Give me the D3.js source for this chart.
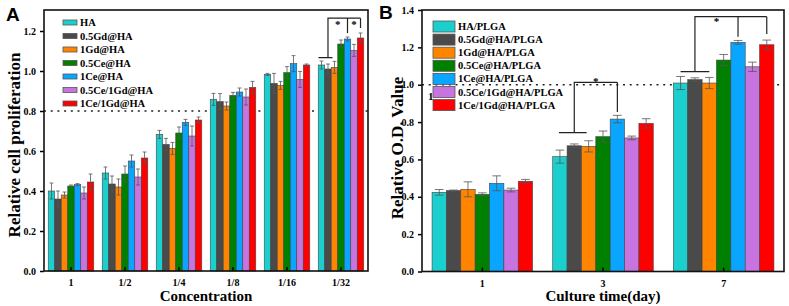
<!DOCTYPE html>
<html><head>
<meta charset="utf-8">
<script src="https://d3js.org/d3.v7.min.js"></script>
<style>
body { margin: 0; background: #fff; }
text { font-family: "Liberation Serif", "Times New Roman", serif; font-weight: bold; }
</style>
</head>
<body>
<div id="chart"></div>
<script>
// ---- data ----
var colors = ["#1ccfcf", "#4a4a4a", "#ff8500", "#008000", "#0aa5ff", "#c874e0", "#ff0000"];

// panel A
var catA = ["1", "1/2", "1/4", "1/8", "1/16", "1/32"];
var namesA = ["HA", "0.5Gd@HA", "1Gd@HA", "0.5Ce@HA", "1Ce@HA", "0.5Ce/1Gd@HA", "1Ce/1Gd@HA"];
var a_HA      = [0.40, 0.49, 0.683, 0.858, 0.983, 1.03];
var a_05Gd    = [0.36, 0.435, 0.633, 0.847, 0.938, 1.01];
var a_1Gd     = [0.38, 0.42, 0.613, 0.825, 0.928, 1.018];
var a_05Ce    = [0.425, 0.485, 0.69, 0.878, 0.992, 1.135];
var a_1Ce     = [0.432, 0.55, 0.743, 0.895, 1.037, 1.16];
var a_05Ce1Gd = [0.39, 0.47, 0.675, 0.87, 0.958, 1.103];
var a_1Ce1Gd  = [0.445, 0.565, 0.755, 0.918, 1.03, 1.165];
var e_HA      = [0.04, 0.03, 0.02, 0.03, 0.005, 0.02];
var e_05Gd    = [0.04, 0.04, 0.03, 0.04, 0.05, 0.025];
var e_1Gd     = [0.015, 0.04, 0.03, 0.02, 0.02, 0.03];
var e_05Ce    = [0.005, 0.04, 0.03, 0.015, 0.03, 0.02];
var e_1Ce     = [0.005, 0.03, 0.015, 0.02, 0.04, 0.01];
var e_05Ce1Gd = [0.03, 0.04, 0.05, 0.04, 0.04, 0.03];
var e_1Ce1Gd  = [0.04, 0.03, 0.015, 0.03, 0.005, 0.025];
var ticksA = [0, 0.2, 0.4, 0.6, 0.8, 1.0, 1.2];

// panel B
var catB = ["1", "3", "7"];
var namesB = ["HA/PLGA", "0.5Gd@HA/PLGA", "1Gd@HA/PLGA", "0.5Ce@HA/PLGA", "1Ce@HA/PLGA", "0.5Ce/1Gd@HA/PLGA", "1Ce/1Gd@HA/PLGA"];
var b_HA      = [0.424, 0.615, 1.009];
var b_05Gd    = [0.433, 0.673, 1.027];
var b_1Gd     = [0.44, 0.670, 1.009];
var b_05Ce    = [0.413, 0.722, 1.132];
var b_1Ce     = [0.472, 0.816, 1.227];
var b_05Ce1Gd = [0.436, 0.715, 1.096];
var b_1Ce1Gd  = [0.483, 0.793, 1.214];
var f_HA      = [0.015, 0.035, 0.035];
var f_05Gd    = [0.003, 0.01, 0.01];
var f_1Gd     = [0.04, 0.03, 0.03];
var f_05Ce    = [0.008, 0.03, 0.03];
var f_1Ce     = [0.04, 0.02, 0.01];
var f_05Ce1Gd = [0.01, 0.01, 0.025];
var f_1Ce1Gd  = [0.01, 0.025, 0.025];
var ticksB = [0, 0.2, 0.4, 0.6, 0.8, 1.0, 1.2, 1.4];

var seriesA = [a_HA, a_05Gd, a_1Gd, a_05Ce, a_1Ce, a_05Ce1Gd, a_1Ce1Gd];
var errA = [e_HA, e_05Gd, e_1Gd, e_05Ce, e_1Ce, e_05Ce1Gd, e_1Ce1Gd];
var seriesB = [b_HA, b_05Gd, b_1Gd, b_05Ce, b_1Ce, b_05Ce1Gd, b_1Ce1Gd];
var errB = [f_HA, f_05Gd, f_1Gd, f_05Ce, f_1Ce, f_05Ce1Gd, f_1Ce1Gd];

var svg = d3.select("#chart").append("svg")
  .attr("width", 789).attr("height", 306);

function panel(opt) {
  var g = svg.append("g");
  var x0 = d3.scaleBand().domain(opt.cats).range([opt.left, opt.right]).paddingInner(0).paddingOuter(0);
  var x1 = d3.scaleBand().domain(d3.range(7)).range([0, x0.bandwidth()]).paddingOuter(opt.pad);
  var y = d3.scaleLinear().domain([0, opt.ymax]).range([opt.bottom, opt.top]);

  // reference dotted line
  g.append("line")
    .attr("x1", opt.left).attr("x2", opt.right)
    .attr("y1", y(opt.refVal)).attr("y2", y(opt.refVal))
    .attr("stroke", "#222").attr("stroke-width", 1.6)
    .attr("stroke-dasharray", "2,4.7");

  // bars
  opt.series.forEach(function(vals, s) {
    vals.forEach(function(v, i) {
      var bx = x0(opt.cats[i]) + x1(s);
      g.append("rect")
        .attr("x", bx).attr("y", y(v))
        .attr("width", x1.bandwidth()).attr("height", y(0) - y(v))
        .attr("fill", colors[s]).attr("stroke", "#444").attr("stroke-width", 0.6);
      var e = opt.errs[s][i];
      var cx = bx + x1.bandwidth() / 2;
      var cw = x1.bandwidth() * 0.3;
      g.append("line").attr("x1", cx).attr("x2", cx).attr("y1", y(v - e)).attr("y2", y(v + e))
        .attr("stroke", "#555").attr("stroke-width", 0.8);
      [v - e, v + e].forEach(function(t) {
        g.append("line").attr("x1", cx - cw).attr("x2", cx + cw).attr("y1", y(t)).attr("y2", y(t))
          .attr("stroke", "#555").attr("stroke-width", 0.8);
      });
    });
  });

  // axes
  var ya = g.append("g").attr("transform", "translate(" + opt.left + ",0)")
    .call(d3.axisLeft(y).tickValues(opt.ticks).tickFormat(d3.format(".1f")).tickSize(4).tickPadding(4));
  ya.select(".domain").remove();
  ya.selectAll("text").style("font-size", "10px").style("font-family", "Liberation Serif").style("font-weight", "bold");
  ya.selectAll("line").attr("stroke-width", 1.5);

  var xa = g.append("g").attr("transform", "translate(0," + opt.bottom + ")")
    .call(d3.axisBottom(x0).tickSize(-4).tickPadding(8));
  xa.select(".domain").remove();
  xa.selectAll("text").style("font-size", "10px").style("font-family", "Liberation Serif").style("font-weight", "bold");
  xa.selectAll("line").attr("stroke-width", 1.5);

  // frame
  g.append("rect").attr("x", opt.left).attr("y", opt.top)
    .attr("width", opt.right - opt.left).attr("height", opt.bottom - opt.top)
    .attr("fill", "none").attr("stroke", "#111").attr("stroke-width", 1.6);

  // titles
  g.append("text").attr("x", (opt.left + opt.right) / 2).attr("y", 301)
    .attr("text-anchor", "middle").style("font-size", "15px").text(opt.xTitle);
  g.append("text").attr("transform", "translate(" + opt.yTitleX + "," + opt.yTitleY + ") rotate(-90)")
    .attr("text-anchor", "middle").style("font-size", "17px").text(opt.yTitle);
  g.append("text").attr("x", opt.labelX).attr("y", opt.labelY)
    .style("font-family", "Liberation Sans, Arial, sans-serif").style("font-size", "19px").text(opt.label);

  // legend
  opt.names.forEach(function(n, s) {
    var ly = opt.legY + s * opt.legStep;
    g.append("rect").attr("x", opt.legX).attr("y", ly - opt.swH / 2)
      .attr("width", opt.swW).attr("height", opt.swH)
      .attr("fill", colors[s]).attr("stroke", "#555").attr("stroke-width", 0.8);
    g.append("text").attr("x", opt.legX + opt.swW + 3).attr("y", ly + 3.5)
      .style("font-size", "10.5px").text(n);
  });

  // significance brackets
  function cxOf(cat, s) { return x0(cat) + x1(s) + x1.bandwidth() / 2; }
  opt.brackets.forEach(function(b) {
    var path = d3.path();
    path.moveTo(cxOf(b.cat, 0) + b.shortL, y(b.low));
    path.lineTo(cxOf(b.cat, 2) + b.shortR, y(b.low));
    path.moveTo(cxOf(b.cat, 1), y(b.low));
    path.lineTo(cxOf(b.cat, 1), y(b.top));
    path.lineTo(cxOf(b.cat, b.legs[b.legs.length - 1][0]), y(b.top));
    b.legs.forEach(function(l) {
      path.moveTo(cxOf(b.cat, l[0]), y(b.top));
      path.lineTo(cxOf(b.cat, l[0]), y(l[1]));
    });
    g.append("path").attr("d", path.toString()).attr("fill", "none").attr("stroke", "#222").attr("stroke-width", 1.2);
    b.stars.forEach(function(st) {
      g.append("text").attr("x", (cxOf(b.cat, st[0]) + cxOf(b.cat, st[1])) / 2).attr("y", y(st[2]))
        .attr("text-anchor", "middle").style("font-size", "11px").text("*");
    });
  });
  return {x0: x0, y: y, g: g};
}

panel({
  cats: catA, names: namesA, series: seriesA, errs: errA, ticks: ticksA,
  left: 44, right: 368, top: 10, bottom: 271, ymax: 1.305, pad: 0.65, refVal: 0.8,
  xTitle: "Concentration", yTitle: "Relative cell proliferation", yTitleX: 20, yTitleY: 145,
  label: "A", labelX: 6, labelY: 21,
  legX: 63, legY: 22.5, legStep: 13.5, swW: 14, swH: 5,
  brackets: [{cat: "1/32", low: 1.067, top: 1.264, shortL: -3, shortR: -2,
              legs: [[4, 1.19], [6, 1.215]], stars: [[1, 4, 1.215], [4, 6, 1.215]]}]
});

var pb = panel({
  cats: catB, names: namesB, series: seriesB, errs: errB, ticks: ticksB,
  left: 422, right: 784, top: 10, bottom: 271.5, ymax: 1.4, pad: 0.7, refVal: 1.0,
  xTitle: "Culture time(day)", yTitle: "Relative O.D. Value", yTitleX: 403, yTitleY: 148,
  label: "B", labelX: 379, labelY: 19,
  legX: 433, legY: 26.5, legStep: 13.1, swW: 22, swH: 11,
  brackets: [
    {cat: "3", low: 0.743, top: 1.013, shortL: -1, shortR: -2,
     legs: [[4, 0.854]], stars: [[1, 4, 1.0]]},
    {cat: "7", low: 1.07, top: 1.364, shortL: 0, shortR: 0,
     legs: [[4, 1.257], [6, 1.271]], stars: [[1, 4, 1.32]]}
  ]
});

// stray "1" label next to the reference line in panel B
pb.g.append("text").attr("x", pb.x0.range()[0] + 6).attr("y", pb.y(1.0) + 15)
  .style("font-size", "11px").text("1");
</script>
</body></html>
